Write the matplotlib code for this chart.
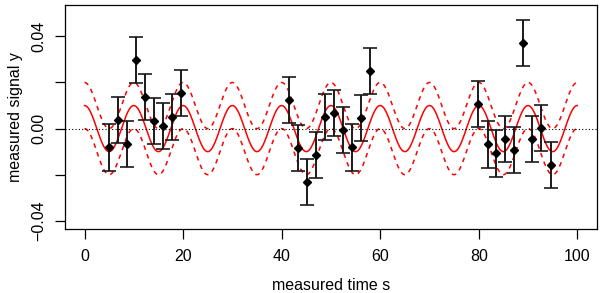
import numpy as np
import matplotlib
matplotlib.use("Agg")
import matplotlib.pyplot as plt

# measured points (time, signal), error bars are +-0.01
t = [4.9, 6.8, 8.6, 10.4, 12.2, 14.1, 15.9, 17.7, 19.6,
     41.5, 43.4, 45.2, 47.0, 48.8, 50.6, 52.5, 54.3, 56.1, 58.0,
     79.9, 81.8, 83.6, 85.4, 87.2, 89.0, 90.9, 92.7, 94.6]
y = [-0.0082, 0.0039, -0.0067, 0.0296, 0.0136, 0.0034, 0.0010, 0.0051, 0.0156,
     0.0123, -0.0083, -0.0231, -0.0115, 0.0050, 0.0066, -0.0006, -0.0082, 0.0047, 0.0250,
     0.0105, -0.0069, -0.0108, -0.0047, -0.0091, 0.0371, -0.0045, 0.0003, -0.0158]
yerr = [0.01] * len(t)

# model curve: amplitude, period, band width
amp = 0.01
period = 10.0
band = 0.01

xticks = [0, 20, 40, 60, 80, 100]
yticks = [-0.04, -0.02, 0.0, 0.02, 0.04]
ylabels = ['\u22120.04', '', '0.00', '', '0.04']

plt.rcParams['font.family'] = ['Liberation Sans', 'DejaVu Sans']

fig = plt.figure(figsize=(6.0, 2.93), dpi=100)
ax = fig.add_axes([0.108, 0.218, 0.887, 0.765])

tt = np.linspace(0, 100, 1000)
model = amp * np.cos(2 * np.pi * tt / period)
ax.plot(tt, model, color='#ff0000', lw=1.1)
ax.plot(tt, model + band, color='#ff0000', lw=1.1, dashes=(3, 3))
ax.plot(tt, model - band, color='#ff0000', lw=1.1, dashes=(3, 3))
ax.axhline(0, color='black', lw=0.8, ls=(0, (1, 2)))

ax.errorbar(t, y, yerr=yerr, fmt='D', color='black', ms=4.5,
            ecolor='#1a1a1a', elinewidth=1.4, capsize=4.8, capthick=1.2)

ax.set_xlim(-4, 104)
ax.set_ylim(-0.0436, 0.0536)
ax.set_xticks(xticks)
ax.set_yticks(yticks)
ax.set_yticklabels(ylabels, rotation=90, va='center')
ax.tick_params(length=7.2, width=0.9, labelsize=11.5)
ax.tick_params(axis='x', pad=7)
ax.tick_params(axis='y', pad=6)
for s in ax.spines.values():
    s.set_linewidth(0.9)

ax.set_xlabel('measured time s', fontsize=11.5, labelpad=10)
ax.set_ylabel('measured signal y', fontsize=11.5, labelpad=6)

fig.savefig('out.png', dpi=100)
